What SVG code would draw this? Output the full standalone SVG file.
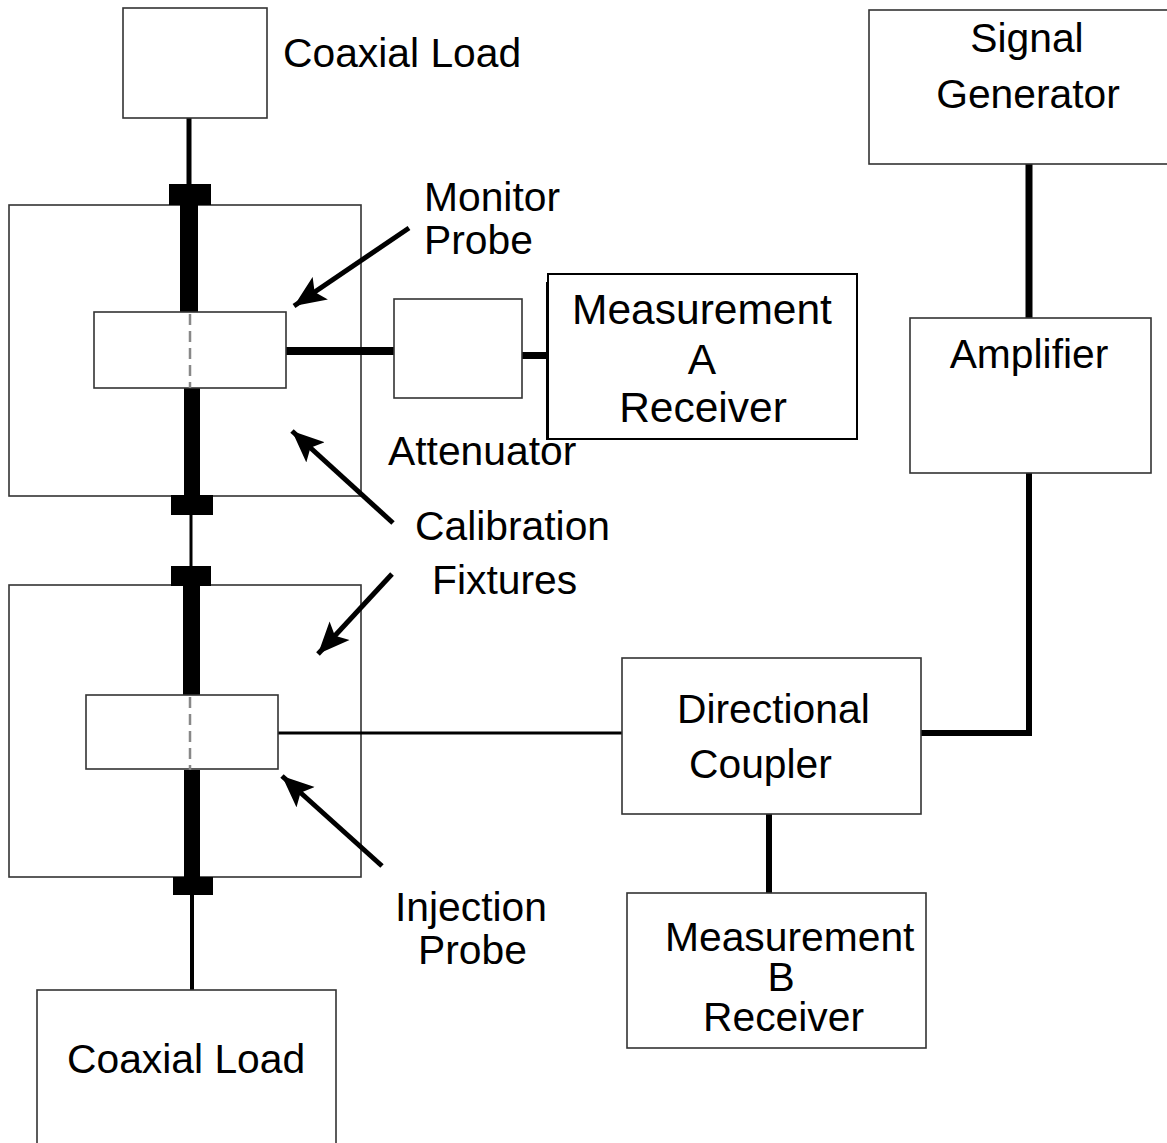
<svg xmlns="http://www.w3.org/2000/svg" width="1167" height="1143" viewBox="0 0 1167 1143">
<defs>
<style>
.box{fill:#fff;stroke:#333;stroke-width:1.6}
.t{font-family:"Liberation Sans",Arial,sans-serif;font-size:40.8px;fill:#000}
.m{text-anchor:middle}
.arr{stroke:#000;stroke-width:5;fill:none;marker-end:url(#ah)}
.dash{stroke:#888;stroke-width:2.5;stroke-dasharray:11 6;fill:none}
</style>
<marker id="ah" markerUnits="userSpaceOnUse" markerWidth="34" markerHeight="28" refX="28" refY="12" orient="auto" viewBox="0 0 30 24">
<path d="M0,0 L28,12 L0,24 L6,12 Z" fill="#000"/>
</marker>
</defs>
<rect width="1167" height="1143" fill="#fff"/>

<g id="fixture-upper"><rect class="box" x="9" y="205" width="352" height="291"/></g>
<g id="fixture-lower"><rect class="box" x="9" y="585" width="352" height="292"/></g>

<g id="connectors">
<line x1="189" y1="118" x2="189" y2="186" stroke="#000" stroke-width="5"/>
<rect x="169" y="184" width="42" height="21" fill="#000"/>
<rect x="180" y="204" width="18" height="110" fill="#000"/>
<rect x="184" y="387" width="16" height="110" fill="#000"/>
<rect x="171" y="495" width="42" height="20" fill="#000"/>
<line x1="191" y1="514" x2="191" y2="567" stroke="#000" stroke-width="3"/>
<rect x="171" y="566" width="40" height="20" fill="#000"/>
<rect x="183" y="585" width="17" height="111" fill="#000"/>
<rect x="184" y="770" width="16" height="108" fill="#000"/>
<rect x="173" y="877" width="40" height="18" fill="#000"/>
<line x1="192" y1="894" x2="192" y2="991" stroke="#000" stroke-width="4"/>
<line x1="286" y1="351" x2="395" y2="351" stroke="#000" stroke-width="8"/>
<line x1="520" y1="355.5" x2="548" y2="355.5" stroke="#000" stroke-width="7"/>
<line x1="547.5" y1="282" x2="547.5" y2="440" stroke="#000" stroke-width="3"/>
<line x1="278" y1="733" x2="623" y2="733" stroke="#000" stroke-width="3"/>
<line x1="1029" y1="164" x2="1029" y2="319" stroke="#000" stroke-width="7"/>
<polyline points="1029,473 1029,733 921,733" fill="none" stroke="#000" stroke-width="6"/>
<line x1="769" y1="814" x2="769" y2="894" stroke="#000" stroke-width="6"/>
<line class="arr" x1="409" y1="228" x2="294" y2="306"/>
<line class="arr" x1="393" y1="523" x2="292" y2="431"/>
<line class="arr" x1="392" y1="574" x2="318" y2="654"/>
<line class="arr" x1="382" y1="866" x2="282" y2="776"/>
</g>

<g id="coaxial-load-top"><rect class="box" x="123" y="8" width="144" height="110"/></g>
<text class="t" x="283" y="67">Coaxial Load</text>

<g id="monitor-probe">
<rect class="box" x="94" y="312" width="192" height="76"/>
<line class="dash" x1="190" y1="314" x2="190" y2="388"/>
</g>
<text class="t" x="424" y="211">Monitor</text>
<text class="t" x="424" y="254">Probe</text>

<g id="attenuator"><rect class="box" x="394" y="299" width="128" height="99"/></g>
<text class="t" x="388" y="465">Attenuator</text>

<g id="measurement-a">
<rect x="548" y="274" width="309" height="165" fill="#fff" stroke="#000" stroke-width="2"/>
<text class="t m" x="702" y="324" style="font-size:42.5px">Measurement</text>
<text class="t m" x="702" y="374" style="font-size:42.5px">A</text>
<text class="t m" x="703" y="422" style="font-size:42.5px">Receiver</text>
</g>

<text class="t" x="415" y="540">Calibration</text>
<text class="t" x="432" y="594">Fixtures</text>

<g id="injection-probe">
<rect class="box" x="86" y="695" width="192" height="74"/>
<line class="dash" x1="190" y1="697" x2="190" y2="770"/>
</g>
<text class="t" x="395" y="921">Injection</text>
<text class="t" x="418" y="964">Probe</text>

<g id="coaxial-load-bottom">
<rect class="box" x="37" y="990" width="299" height="170"/>
<text class="t" x="67" y="1073">Coaxial Load</text>
</g>

<g id="signal-generator">
<rect class="box" x="869" y="10" width="310" height="154"/>
<text class="t m" x="1027" y="52">Signal</text>
<text class="t m" x="1028" y="108">Generator</text>
</g>

<g id="amplifier">
<rect class="box" x="910" y="318" width="241" height="155"/>
<text class="t m" x="1029" y="368">Amplifier</text>
</g>

<g id="directional-coupler">
<rect class="box" x="622" y="658" width="299" height="156"/>
<text class="t" x="677" y="723">Directional</text>
<text class="t" x="689" y="778">Coupler</text>
</g>

<g id="measurement-b">
<rect class="box" x="627" y="893" width="299" height="155"/>
<text class="t" x="665" y="951">Measurement</text>
<text class="t m" x="781" y="991">B</text>
<text class="t" x="703" y="1031">Receiver</text>
</g>
</svg>
